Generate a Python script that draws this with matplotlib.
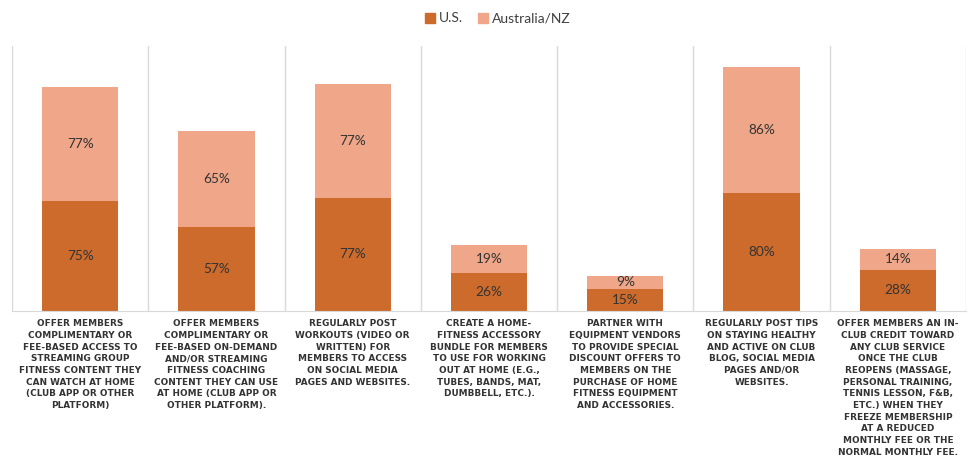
import matplotlib

matplotlib.use("Agg")
import matplotlib.pyplot as plt
from matplotlib.patches import Patch

# --- data -------------------------------------------------------------------
categories = [
    "OFFER MEMBERS\nCOMPLIMENTARY OR\nFEE-BASED ACCESS TO\nSTREAMING GROUP\nFITNESS CONTENT THEY\nCAN WATCH AT HOME\n(CLUB APP OR OTHER\nPLATFORM)",
    "OFFER MEMBERS\nCOMPLIMENTARY OR\nFEE-BASED ON-DEMAND\nAND/OR STREAMING\nFITNESS COACHING\nCONTENT THEY CAN USE\nAT HOME (CLUB APP OR\nOTHER PLATFORM).",
    "REGULARLY POST\nWORKOUTS (VIDEO OR\nWRITTEN) FOR\nMEMBERS TO ACCESS\nON SOCIAL MEDIA\nPAGES AND WEBSITES.",
    "CREATE A HOME-\nFITNESS ACCESSORY\nBUNDLE FOR MEMBERS\nTO USE FOR WORKING\nOUT AT HOME (E.G.,\nTUBES, BANDS, MAT,\nDUMBBELL, ETC.).",
    "PARTNER WITH\nEQUIPMENT VENDORS\nTO PROVIDE SPECIAL\nDISCOUNT OFFERS TO\nMEMBERS ON THE\nPURCHASE OF HOME\nFITNESS EQUIPMENT\nAND ACCESSORIES.",
    "REGULARLY POST TIPS\nON STAYING HEALTHY\nAND ACTIVE ON CLUB\nBLOG, SOCIAL MEDIA\nPAGES AND/OR\nWEBSITES.",
    "OFFER MEMBERS AN IN-\nCLUB CREDIT TOWARD\nANY CLUB SERVICE\nONCE THE CLUB\nREOPENS (MASSAGE,\nPERSONAL TRAINING,\nTENNIS LESSON, F&B,\nETC.) WHEN THEY\nFREEZE MEMBERSHIP\nAT A REDUCED\nMONTHLY FEE OR THE\nNORMAL MONTHLY FEE.",
]
us = [75, 57, 77, 26, 15, 80, 28]
au_nz = [77, 65, 77, 19, 9, 86, 14]

US_COLOR = "#CC6B2C"
AU_COLOR = "#F0A688"
GRID = "#D9D9D9"
TEXT = "#333333"

# --- figure -----------------------------------------------------------------
fig = plt.figure(figsize=(9.71, 4.59), dpi=100)
ax = fig.add_axes([12 / 971, (459 - 311) / 459, 954 / 971, 265 / 459])

x = list(range(len(categories)))
ax.bar(x, us, width=0.56, color=US_COLOR, zorder=2)
ax.bar(x, au_nz, width=0.56, bottom=us, color=AU_COLOR, zorder=2)

for i, (u, a) in enumerate(zip(us, au_nz)):
    ax.text(i, u / 2, f"{u}%", ha="center", va="center",
            fontsize=9.8, family="Lato", color=TEXT, zorder=3)
    ax.text(i, u + a / 2, f"{a}%", ha="center", va="center",
            fontsize=9.8, family="Lato", color=TEXT, zorder=3)

# separators between categories
for b in range(len(categories) + 1):
    ax.axvline(b - 0.5, color=GRID, linewidth=1, zorder=1)

ax.set_xlim(-0.5, len(categories) - 0.5)
ax.set_ylim(0, 180)
ax.set_xticks([])
ax.set_yticks([])
for side in ("top", "left", "right"):
    ax.spines[side].set_visible(False)
ax.spines["bottom"].set_color(GRID)

# category descriptions under each bar
for i, label in enumerate(categories):
    ax.annotate(label, xy=(i, 0), xycoords=("data", "axes fraction"),
                xytext=(0, -6), textcoords="offset points",
                ha="center", va="top", multialignment="center",
                fontsize=6.4, fontweight="bold", color=TEXT, linespacing=1.38)

handles = [Patch(color=US_COLOR, label="U.S."),
           Patch(color=AU_COLOR, label="Australia/NZ")]
fig.legend(handles=handles, loc="upper center", bbox_to_anchor=(0.513, 1.0),
           ncol=2, frameon=False, handlelength=0.7, handleheight=0.7,
           handletextpad=0.3, columnspacing=1.1,
           prop={"family": "Lato", "size": 10}, labelcolor="#404040")

fig.savefig("out.png", dpi=100)
